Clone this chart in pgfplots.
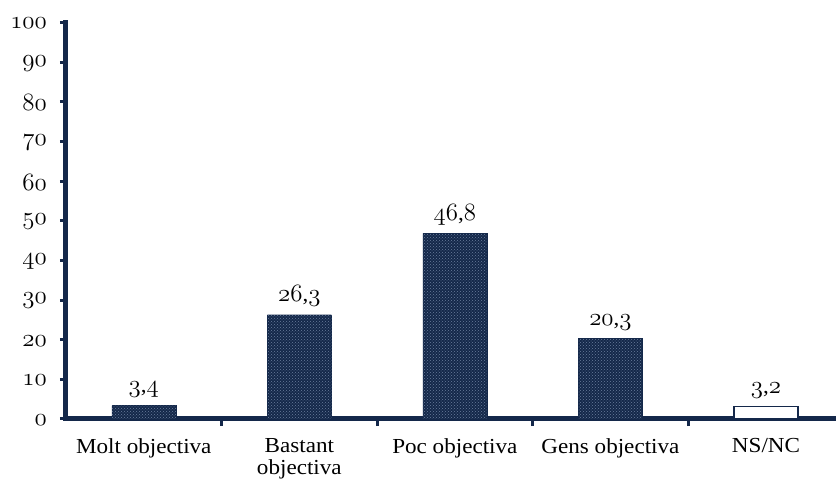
\documentclass[border=0pt]{standalone}
\usepackage{fontspec}
\setmainfont{Liberation Serif}[FakeStretch=1.08]
\usepackage{pgfplots}
\pgfplotsset{compat=1.18}
\usetikzlibrary{patterns}
\definecolor{navy}{HTML}{14284A}
\definecolor{dotc}{HTML}{6A7E9C}
\newcommand\osf[1]{{\fontsize{23}{25}\usefont{OML}{lmm}{m}{it}#1}}
\newcommand\lbl{\fontsize{21.4}{22.5}\selectfont}
\begin{document}
\begin{tikzpicture}
\path[use as bounding box] (-66pt,-60pt) rectangle (770pt,419pt);
\begin{axis}[
  at={(0pt,0pt)}, anchor=south west,
  scale only axis, width=770pt, height=396.5pt,
  xmin=-0.5, xmax=4.45, ymin=0, ymax=100,
  axis x line=bottom, axis y line=left,
  axis line style={-, line width=5pt, draw=navy, line cap=rect},
  tick align=outside,
  ytick={0,10,...,100},
  yticklabels={\osf{0},\osf{10},\osf{20},\osf{30},\osf{40},\osf{50},\osf{60},\osf{70},\osf{80},\osf{90},\osf{100}},
  y tick style={line width=3pt, draw=navy},
  major tick length=6pt,
  yticklabel style={font=\lbl, inner sep=0pt, xshift=-13pt, yshift=-1pt},
  xtick={0,1,2,3,4},
  xticklabels={Molt objectiva,{Bastant\\objectiva},Poc objectiva,Gens objectiva,NS/NC},
  x tick style={draw=none},
  xticklabel style={font=\lbl, align=center, anchor=north, inner sep=0pt, yshift=-13pt},
  extra x ticks={0.5,1.5,2.5,3.5},
  extra x tick labels={},
  extra x tick style={x tick style={draw=navy, line width=3pt}, major tick length=7pt},
  clip=false,
]
\addplot[ybar, bar width=64pt, bar shift=0pt, fill=navy, draw=navy, line width=0.4pt,
  point meta=explicit symbolic, nodes near coords,
  nodes near coords style={anchor=base, yshift=13pt, font=\lbl, text=black, inner sep=0pt}]
  coordinates {(0,3.4) [\osf{3},\osf{4}] (1,26.3) [\osf{26},\osf{3}] (2,46.8) [\osf{46},\osf{8}] (3,20.3) [\osf{20},\osf{3}]};
\addplot[ybar, bar width=64pt, bar shift=0pt, draw=none, pattern=crosshatch dots, pattern color=dotc]
  coordinates {(0,3.4) (1,26.3) (2,46.8) (3,20.3)};
\addplot[ybar, bar width=64pt, bar shift=0pt, fill=white, draw=navy, line width=1.3pt,
  point meta=explicit symbolic, nodes near coords,
  nodes near coords style={anchor=base, yshift=13pt, font=\lbl, text=black, inner sep=0pt}]
  coordinates {(4,3.2) [\osf{3},\osf{2}]};
\end{axis}
\end{tikzpicture}
\end{document}
